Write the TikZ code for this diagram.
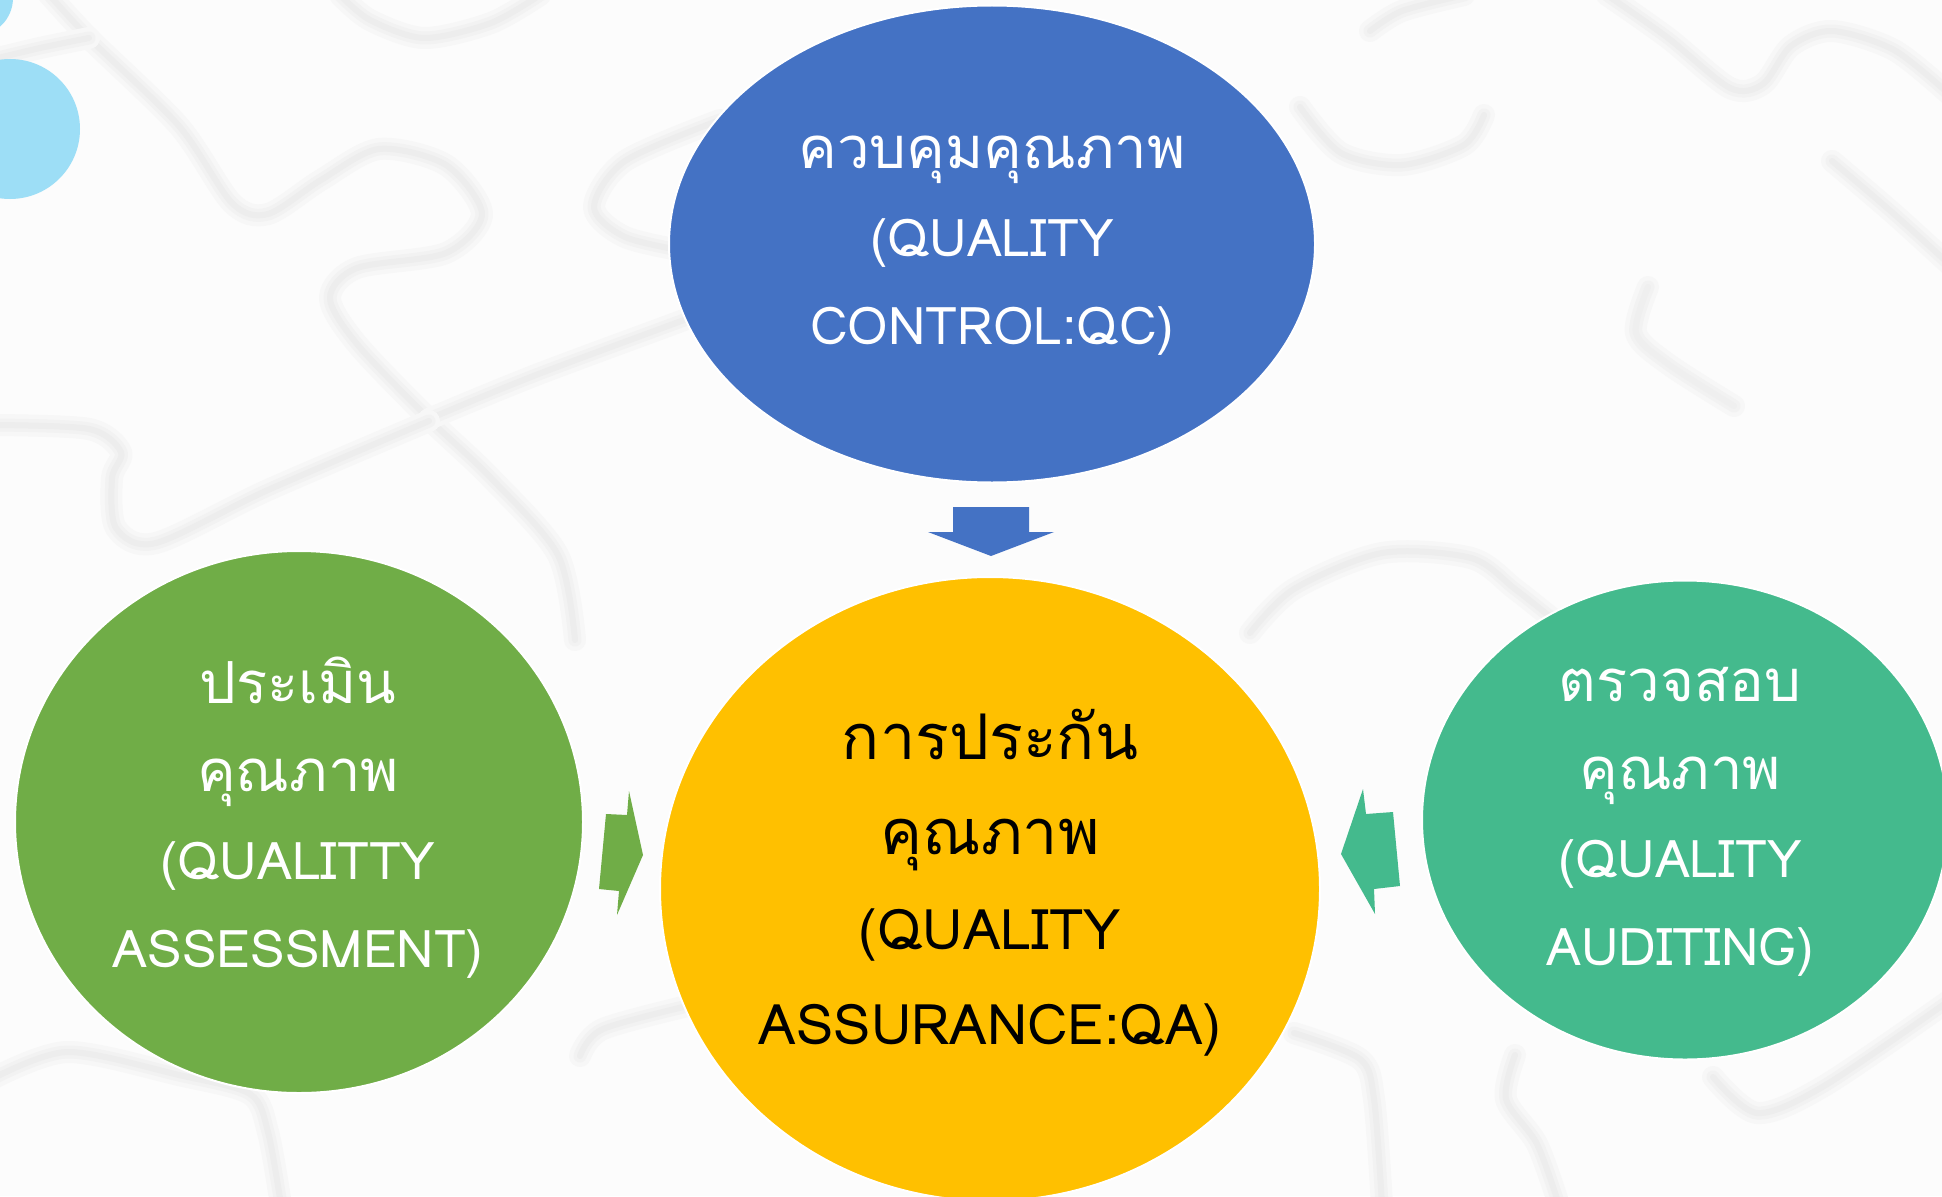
\documentclass[tikz,border=0pt]{standalone}
\usepackage{fontspec}
\newfontfamily\thaifont[Script=Thai]{Loma}
\usetikzlibrary{shapes.geometric}
\definecolor{bgc}{HTML}{FCFCFC}
\definecolor{puzc}{HTML}{EDEDED}
\definecolor{puzm}{HTML}{F2F2F2}
\definecolor{puzs}{HTML}{F7F7F7}
\definecolor{qcblue}{HTML}{4472C4}
\definecolor{qayellow}{HTML}{FFC000}
\definecolor{qgreen}{HTML}{70AD47}
\definecolor{qteal}{HTML}{44BA8D}
\definecolor{lblue}{HTML}{9DDEF6}
\newcommand\thl[1]{{\fontsize{58}{88}\selectfont #1}}
\newcommand\thy[1]{{\fontsize{63}{95}\selectfont #1}}
\tikzset{
  puz/.style={draw=puzc, line width=6, line cap=round, line join=round,
    preaction={draw=puzs, line width=22, line cap=round, line join=round},
    preaction={draw=puzm, line width=13, line cap=round, line join=round}},
  blob/.style={ellipse, draw=white, line width=2, inner sep=0pt},
  lbl/.style={align=center, inner sep=0pt, font=\thaifont\fontsize{52}{88}\selectfont},
  lblY/.style={align=center, inner sep=0pt, font=\thaifont\fontsize{56}{95}\selectfont},
}
\begin{document}
\begin{tikzpicture}[x=1pt,y=-1pt]
\fill[bgc] (0,0) rectangle (1942,1196);
\useasboundingbox (0,0) rectangle (1942,1196);
\begin{scope}
\clip (0,0) rectangle (1942,1196);
% faint puzzle background
\draw[puz] plot[smooth] coordinates {(45,-10) (89,38) (179,126) (232,203) (268,214) (321,180) (379,149) (446,165) (482,214) (446,253) (357,268) (330,298) (357,344) (429,419) (491,478) (558,555) (575,640)};
\draw[puz] plot[smooth] coordinates {(-10,60) (40,48) (89,38)};
\draw[puz] plot[smooth] coordinates {(429,419) (536,375) (700,314) (760,290)};
\draw[puz] plot[smooth] coordinates {(429,421) (268,490) (156,543) (116,528) (112,478) (121,452) (89,429) (-10,425)};
\draw[puz] plot[smooth] coordinates {(340,-5) (370,20) (424,38) (491,23) (540,-5)};
\draw[puz] plot[smooth] coordinates {(720,120) (625,161) (594,207) (625,237) (690,252)};
\draw[puz] plot[smooth] coordinates {(1370,31) (1402,11) (1464,-5)};
\draw[puz] plot[smooth] coordinates {(1607,-5) (1668,38) (1730,88) (1763,84) (1791,46) (1832,31) (1894,50) (1950,95)};
\draw[puz] plot[smooth] coordinates {(1300,107) (1341,153) (1402,165) (1464,145) (1484,115)};
\draw[puz] plot[smooth] coordinates {(1832,161) (1894,214) (1950,265)};
\draw[puz, opacity=0.6] plot[smooth] coordinates {(1648,287) (1636,333) (1668,364) (1734,406)};
\draw[puz] plot[smooth] coordinates {(1250,633) (1294,589) (1382,553) (1471,558) (1515,589) (1559,624)};
\draw[puz] plot[smooth] coordinates {(-10,1080) (67,1052) (179,1075) (250,1094) (268,1132) (281,1205)};
\draw[puz] plot[smooth] coordinates {(580,1056) (603,1029) (700,1003)};
\draw[puz] plot[smooth] coordinates {(1294,1033) (1360,1059) (1374,1099) (1382,1205)};
\draw[puz] plot[smooth] coordinates {(1515,1055) (1506,1099) (1537,1144) (1559,1205)};
\draw[puz] plot[smooth] coordinates {(1713,1077) (1757,1113) (1824,1086) (1950,1000)};
% light blue decorations
\fill[lblue] (10,129) circle (70);
\fill[lblue] (-25,-2) circle (38);
% main shapes
\node[blob, fill=qcblue, minimum width=646, minimum height=477] (qc) at (992,244) {};
\node[blob, fill=qayellow, minimum width=660, minimum height=624] (qa) at (990,889) {};
\node[blob, fill=qgreen, minimum width=568, minimum height=542] (qas) at (299,822) {};
\node[blob, fill=qteal, minimum width=526, minimum height=479] (qau) at (1685,820) {};
\end{scope}
% block arrows
\coordinate (dtip) at (991,556);
\fill[qcblue] (953,507) -- (1029,507) -- (1029,532) -- (1054,532) -- (dtip) -- (928,532) -- (953,532) -- cycle;
\coordinate (gtip) at (643,855);
\fill[qgreen] (606,814) -- (627,815) -- (629,791) -- (gtip) -- (617,915) -- (619,891) -- (599,889) -- cycle;
\coordinate (ttip) at (1341,854);
\fill[qteal] (1363,789) -- (1366,814) -- (1393,812) -- (1400,886) -- (1374,889) -- (1375,914) -- (ttip) -- cycle;
% labels
\node[lbl, text=white] (qct) at (992,246) {\thl{ควบคุมคุณภาพ}\\(QUALITY\\CONTROL:QC)};
\node[lblY, text=black] (qat) at (990,883) {\thy{การประกัน}\\\thy{คุณภาพ}\\(QUALITY\\ASSURANCE:QA)};
\node[lbl, text=white] (qast) at (298,818) {\thl{ประเมิน}\\\thl{คุณภาพ}\\(QUALITTY\\ASSESSMENT)};
\node[lbl, text=white] (qaut) at (1680,822) {\thl{ตรวจสอบ}\\\thl{คุณภาพ}\\(QUALITY\\AUDITING)};
\end{tikzpicture}
\end{document}
